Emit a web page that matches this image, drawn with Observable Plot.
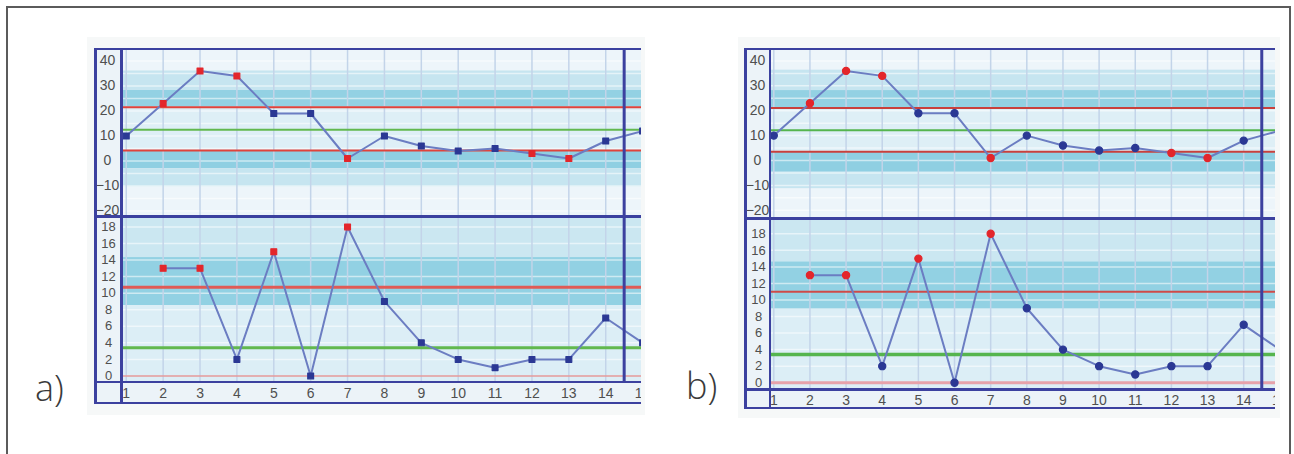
<!DOCTYPE html>
<html>
<head>
<meta charset="utf-8">
<script src="https://cdn.jsdelivr.net/npm/d3@7"></script>
<script src="https://cdn.jsdelivr.net/npm/@observablehq/plot@0.6"></script>
<style>
  html,body{margin:0;padding:0;background:#fff;}
  body{width:1294px;height:454px;position:relative;overflow:hidden;font-family:"Liberation Sans",Arial,sans-serif;}
  .abs{position:absolute;}
  .frame{position:absolute;left:6px;top:6px;width:1285px;height:470px;border:2px solid #5b5b5b;box-sizing:border-box;}
  .plabel{position:absolute;font-family:"Open Sans",sans-serif;font-weight:300;font-size:36px;line-height:36px;color:#3a3a3a;white-space:nowrap;}
</style>
</head>
<body>
<div class="frame"></div>
<script>
// ---------- data ----------
const samples = [1, 2, 3, 4, 5, 6, 7, 8, 9, 10, 11, 12, 13, 14, 15];
const sampleTickLabels = ["1","2","3","4","5","6","7","8","9","10","11","12","13","14","15"];
const individualValues = [10, 23, 36, 34, 19, 19, 1, 10, 6, 4, 5, 3, 1, 8, 12];
const movingRangeValues = [null, 13, 13, 2, 15, 0, 18, 9, 4, 2, 1, 2, 2, 7, 4];
const individualSignals = [2, 3, 4, 7, 12, 13];
const movingRangeSignals = [2, 3, 5, 7];
const individualTicks = [40, 30, 20, 10, 0, -10, -20];
const movingRangeTicks = [18, 16, 14, 12, 10, 8, 6, 4, 2, 0];
const individualGrid = [45, 40, 35, 30, 25, 20, 15, 10, 5, 0, -5, -10, -15, -20];
const movingRangeGrid = [18, 16, 14, 12, 10, 8, 6, 4, 2];
const phaseBoundary = 14.5;
// control limits [UCL, CL, LCL]
const individualLimitsA = [21.5, 12.5, 4.2];
const movingRangeLimitsA = [10.7, 3.4, 0];
const individualLimitsB = [21.1, 12.2, 3.5];
const movingRangeLimitsB = [11.0, 3.4, 0];
// zone edges, top to bottom
const individualZonesA = [48, 36, 28.2, 21.5, 4.2, -3.1, -10.5, -26];
const individualZonesB = [48, 36.3, 28.1, 21.1, 3.3, -4.7, -11.4, -26];
const movingRangeZonesA = [21, 14.3, 8.5, -2];
const movingRangeZonesB = [21, 14.6, 8.9, -2];
const panelLabels = ["a)", "b)"];

// ---------- styles ----------
const individualZoneColors = ["#edf5fa", "#c6e5f0", "#93d1e3", "#deeff6", "#8fcfe2", "#c6e5f0", "#edf5fa"];
const movingRangeZoneColors = ["#cbe7f1", "#92d1e3", "#dceef6"];
const navy = "#3c419f";
const blueDot = "#2b3894";
const redDot = "#e3262b";
const lineColor = "#6b7dc2";
const gridColor = "#c3d4e9";

function zones(edges, colors) {
  return edges.slice(0, -1).map((hi, i) => ({hi, lo: edges[i + 1], fill: colors[i]}));
}

function el(cls, css) {
  const d = document.createElement("div");
  d.className = cls;
  Object.assign(d.style, css);
  document.body.appendChild(d);
  return d;
}
function hLine(y, x1, x2, t) {
  el("abs", {left: x1 + "px", top: (y - t / 2) + "px", width: (x2 - x1) + "px", height: t + "px", background: navy});
}
function vLine(x, y1, y2, t) {
  el("abs", {left: (x - t / 2) + "px", top: y1 + "px", width: t + "px", height: (y2 - y1) + "px", background: navy});
}

const panels = [
  {
    label: panelLabels[0], labelX: 35, labelTop: 370,
    bg: [87, 37, 645, 415],
    L: 95, top: 49, right: 641, inner: 121.7, divider: 216.3, axis: 382, bottom: 403,
    xDomain: [0.89, 14.97],
    indDomain: [-22.2, 44.6], mrDomain: [-0.79, 19.26],
    indLimits: individualLimitsA, mrLimits: movingRangeLimitsA,
    indZones: individualZonesA, mrZones: movingRangeZonesA,
    red: "#e0433b", redMR: "#e05a55", redMRw: 3, lclMR: "#e69a9a", lclMRw: 1.5,
    green: "#62b84e", greenMRw: 3,
    symbol: "square", r: 3.3
  },
  {
    label: panelLabels[1], labelX: 686, labelTop: 368,
    bg: [738, 37, 1280, 418],
    L: 745, top: 49, right: 1275, inner: 770, divider: 218.3, axis: 389.3, bottom: 408,
    xDomain: [0.909, 14.88],
    indDomain: [-23.3, 44.6], mrDomain: [-0.82, 19.85],
    indLimits: individualLimitsB, mrLimits: movingRangeLimitsB,
    indZones: individualZonesB, mrZones: movingRangeZonesB,
    red: "#c9403c", redMR: "#cf4a48", redMRw: 2, lclMR: "#e6a2aa", lclMRw: 3,
    green: "#55b54e", greenMRw: 3.5,
    symbol: "circle", r: 3.6
  }
];

const indData = samples.map((s, i) => ({sample: s, value: individualValues[i], signal: individualSignals.includes(s)}));
const mrData = samples.map((s, i) => ({sample: s, value: movingRangeValues[i], signal: movingRangeSignals.includes(s)}));

for (const p of panels) {
  el("abs", {left: p.bg[0] + "px", top: p.bg[1] + "px", width: (p.bg[2] - p.bg[0]) + "px", height: (p.bg[3] - p.bg[1]) + "px", background: "#f6f8f8"});
  const width = p.right - p.L;
  const ml = p.inner - p.L;
  const hU = Math.round(p.divider - p.top);
  const hL = Math.round(p.bottom - p.divider);
  const mb = Math.round(p.bottom - p.axis);
  const wrap = el("abs", {left: p.L + "px", top: p.top + "px", width: width + "px", height: (p.bottom - p.top) + "px", overflow: "hidden", background: "#ecf3f8"});

  const dotMarks = (data) => [
    Plot.dot(data, {filter: d => d.value != null && !d.signal, x: "sample", y: "value", symbol: p.symbol, r: p.r, fill: blueDot, stroke: blueDot, strokeWidth: 1.2, strokeLinejoin: "round", clip: true}),
    Plot.dot(data, {filter: d => d.value != null && d.signal, x: "sample", y: "value", symbol: p.symbol, r: p.r, fill: redDot, stroke: redDot, strokeWidth: 1.2, strokeLinejoin: "round", clip: true})
  ];

  const upper = Plot.plot({
    width, height: hU,
    marginLeft: ml, marginRight: 0, marginTop: 0, marginBottom: 0,
    x: {domain: p.xDomain, axis: null},
    y: {domain: p.indDomain, axis: null},
    color: {type: "identity"},
    style: {background: "#ecf3f8", fontFamily: "Liberation Sans, Arial, sans-serif"},
    marks: [
      Plot.rect(zones(p.indZones, individualZoneColors), {x1: p.xDomain[0], x2: p.xDomain[1], y1: "lo", y2: "hi", fill: "fill", clip: true}),
      Plot.ruleY(individualGrid, {stroke: "#ffffff", strokeOpacity: 0.55, strokeWidth: 1.5}),
      Plot.ruleX(samples, {stroke: gridColor, strokeWidth: 1.5}),
      Plot.ruleY([p.indLimits[0], p.indLimits[2]], {stroke: p.red, strokeWidth: 2}),
      Plot.ruleY([p.indLimits[1]], {stroke: p.green, strokeWidth: 2}),
      Plot.line(indData, {x: "sample", y: "value", stroke: lineColor, strokeWidth: 2, clip: true}),
      ...dotMarks(indData),
      Plot.ruleX([phaseBoundary], {stroke: navy, strokeWidth: 3}),
      Plot.axisY(individualTicks, {anchor: "left", tickSize: 0, tickPadding: ml - 12, textAnchor: "middle", fontSize: 14, color: "#4f4f4f", label: null})
    ]
  });
  Object.assign(upper.style, {position: "absolute", left: "0px", top: "0px"});
  wrap.appendChild(upper);

  const lower = Plot.plot({
    width, height: hL,
    marginLeft: ml, marginRight: 0, marginTop: 0, marginBottom: mb,
    x: {domain: p.xDomain, axis: null},
    y: {domain: p.mrDomain, axis: null},
    color: {type: "identity"},
    style: {background: "#ecf3f8", fontFamily: "Liberation Sans, Arial, sans-serif"},
    marks: [
      Plot.rect(zones(p.mrZones, movingRangeZoneColors), {x1: p.xDomain[0], x2: p.xDomain[1], y1: "lo", y2: "hi", fill: "fill", clip: true}),
      Plot.ruleY(movingRangeGrid, {stroke: "#ffffff", strokeOpacity: 0.55, strokeWidth: 1.5}),
      Plot.ruleX(samples, {stroke: gridColor, strokeWidth: 1.5}),
      Plot.ruleY([p.mrLimits[0]], {stroke: p.redMR, strokeWidth: p.redMRw}),
      Plot.ruleY([p.mrLimits[2]], {stroke: p.lclMR, strokeWidth: p.lclMRw}),
      Plot.ruleY([p.mrLimits[1]], {stroke: p.green, strokeWidth: p.greenMRw}),
      Plot.line(mrData, {x: "sample", y: "value", stroke: lineColor, strokeWidth: 2, clip: true}),
      ...dotMarks(mrData),
      Plot.ruleX([phaseBoundary], {stroke: navy, strokeWidth: 3}),
      Plot.axisY(movingRangeTicks, {anchor: "left", tickSize: 0, tickPadding: ml - 13, textAnchor: "middle", fontSize: 13, color: "#4f4f4f", label: null}),
      Plot.axisX(samples, {anchor: "bottom", tickSize: 0, tickPadding: 6, fontSize: 14, color: "#4f4f4f", label: null, tickFormat: d => sampleTickLabels[samples.indexOf(d)]})
    ]
  });
  Object.assign(lower.style, {position: "absolute", left: "0px", top: (p.divider - p.top) + "px"});
  wrap.appendChild(lower);

  // panel structure lines
  vLine(p.L + 0.7, p.top - 1, p.bottom + 1, 3);
  vLine(p.inner, p.top - 1, p.bottom + 1, 2.5);
  hLine(p.top, p.L - 1, p.right, 2.5);
  hLine(p.divider, p.L - 1, p.right, 2.5);
  hLine(p.axis, p.L - 1, p.right, 2.5);
  hLine(p.bottom, p.L - 1, p.right, 2.5);

  const lab = el("plabel", {left: p.labelX + "px", top: p.labelTop + "px"});
  lab.textContent = p.label;
}
</script>
</body>
</html>
